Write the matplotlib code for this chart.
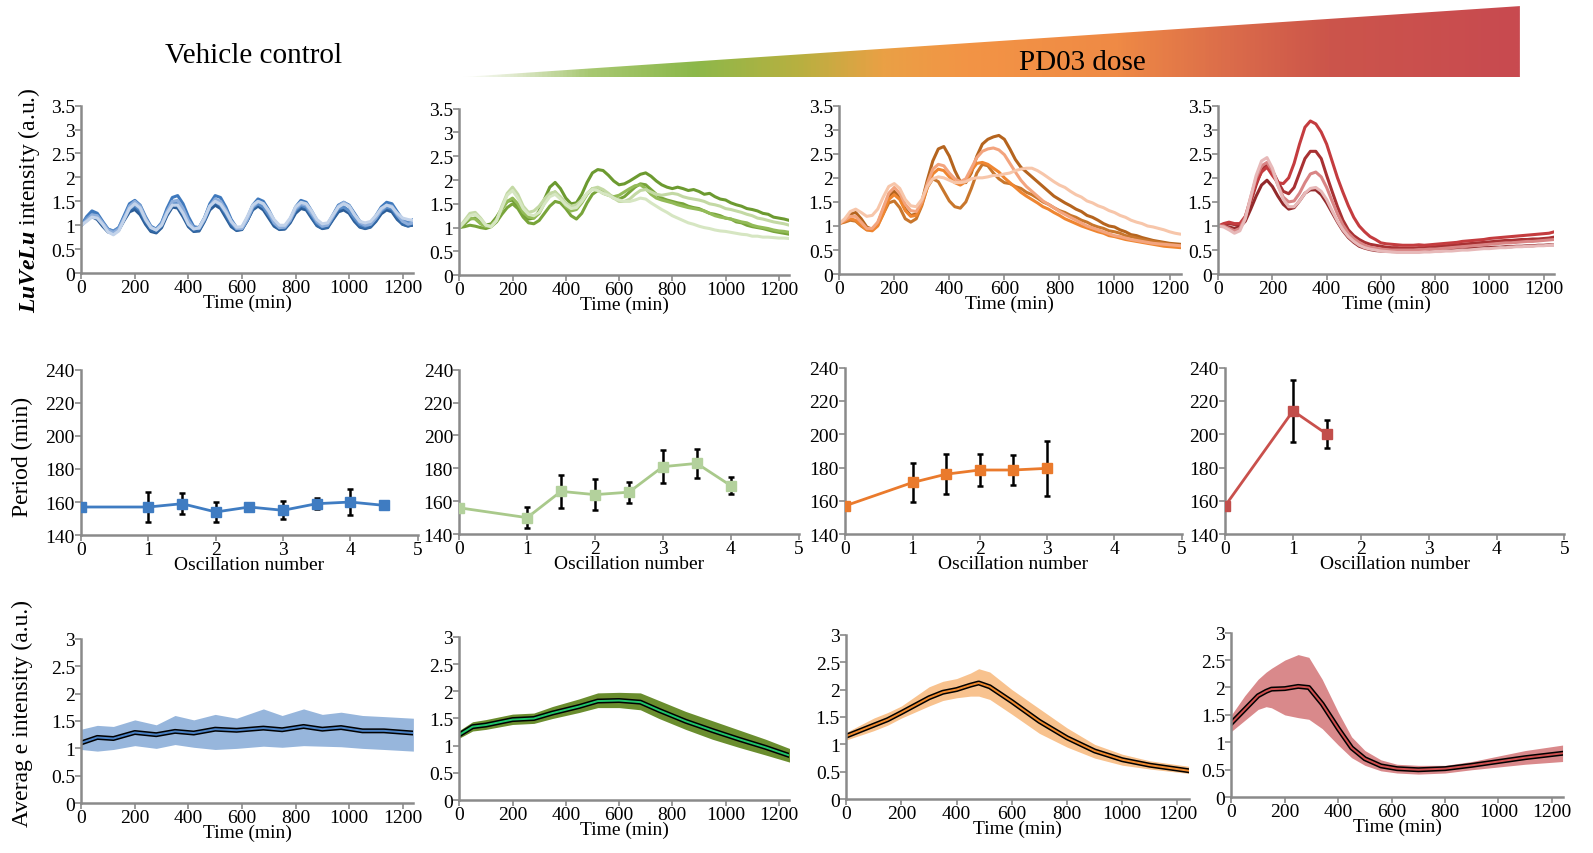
import numpy as np
import matplotlib
matplotlib.use("Agg")
import matplotlib.pyplot as plt
from matplotlib.colors import LinearSegmentedColormap
from matplotlib.patches import Polygon

plt.rcParams['font.family'] = ['Liberation Serif', 'DejaVu Serif']
plt.rcParams['mathtext.fontset'] = 'custom'
plt.rcParams['mathtext.rm'] = 'Liberation Serif'
plt.rcParams['mathtext.it'] = 'Liberation Serif:italic:bold'

# ---------------- data: single-cell traces (sampled every 20 min) ----------------
t_trace = np.arange(0, 1241, 20)

blue_traces = [
    [1.00, 1.12, 1.18, 1.12, 0.98, 0.86, 0.83, 0.90, 1.10, 1.28,
     1.33, 1.22, 1.02, 0.87, 0.84, 0.95, 1.20, 1.38, 1.36, 1.18,
     0.97, 0.87, 0.88, 1.08, 1.32, 1.42, 1.35, 1.16, 0.97, 0.89,
     0.91, 1.10, 1.32, 1.40, 1.32, 1.15, 0.98, 0.91, 0.92, 1.05,
     1.25, 1.35, 1.32, 1.15, 0.99, 0.93, 0.95, 1.12, 1.28, 1.32,
     1.25, 1.08, 0.96, 0.93, 0.96, 1.08, 1.24, 1.32, 1.28, 1.12,
     1.02, 0.99, 1.00],
    [1.00, 1.14, 1.24, 1.20, 1.04, 0.90, 0.86, 0.92, 1.12, 1.32,
     1.38, 1.28, 1.06, 0.90, 0.86, 0.98, 1.24, 1.42, 1.40, 1.22,
     1.00, 0.88, 0.90, 1.10, 1.36, 1.48, 1.40, 1.20, 1.00, 0.90,
     0.92, 1.10, 1.34, 1.45, 1.38, 1.20, 1.02, 0.92, 0.93, 1.08,
     1.30, 1.40, 1.36, 1.18, 1.00, 0.94, 0.96, 1.14, 1.32, 1.38,
     1.30, 1.12, 0.98, 0.94, 0.97, 1.10, 1.28, 1.36, 1.32, 1.15,
     1.02, 0.98, 1.02],
    [1.00, 1.18, 1.30, 1.25, 1.08, 0.92, 0.87, 0.95, 1.20, 1.45,
     1.52, 1.42, 1.18, 0.98, 0.92, 1.05, 1.35, 1.58, 1.62, 1.45,
     1.18, 0.97, 0.95, 1.15, 1.45, 1.62, 1.58, 1.38, 1.12, 0.95,
     0.95, 1.15, 1.42, 1.55, 1.50, 1.32, 1.10, 0.97, 0.97, 1.12,
     1.38, 1.52, 1.48, 1.30, 1.10, 1.00, 1.02, 1.22, 1.42, 1.48,
     1.42, 1.25, 1.08, 1.02, 1.05, 1.20, 1.38, 1.48, 1.45, 1.28,
     1.12, 1.05, 1.12],
    [1.00, 1.15, 1.22, 1.18, 1.05, 0.92, 0.88, 0.95, 1.15, 1.35,
     1.42, 1.32, 1.10, 0.95, 0.92, 1.05, 1.30, 1.48, 1.45, 1.28,
     1.05, 0.93, 0.95, 1.15, 1.40, 1.50, 1.42, 1.25, 1.05, 0.93,
     0.95, 1.15, 1.38, 1.45, 1.38, 1.22, 1.05, 0.95, 0.97, 1.12,
     1.32, 1.42, 1.38, 1.22, 1.05, 0.97, 1.02, 1.20, 1.35, 1.38,
     1.30, 1.15, 1.02, 0.98, 1.02, 1.15, 1.30, 1.38, 1.35, 1.20,
     1.08, 1.05, 1.07],
    [1.00, 1.10, 1.22, 1.20, 1.05, 0.90, 0.85, 0.92, 1.15, 1.40,
     1.50, 1.40, 1.15, 0.96, 0.90, 1.02, 1.28, 1.50, 1.52, 1.35,
     1.10, 0.94, 0.93, 1.12, 1.40, 1.55, 1.50, 1.32, 1.08, 0.93,
     0.93, 1.12, 1.38, 1.50, 1.45, 1.28, 1.05, 0.95, 0.96, 1.10,
     1.35, 1.45, 1.42, 1.25, 1.08, 0.98, 1.00, 1.18, 1.40, 1.48,
     1.40, 1.22, 1.06, 1.00, 1.02, 1.15, 1.32, 1.42, 1.40, 1.22,
     1.08, 1.02, 1.05],
    [1.00, 1.08, 1.17, 1.15, 1.02, 0.86, 0.80, 0.88, 1.12, 1.35,
     1.45, 1.36, 1.12, 0.95, 0.90, 1.00, 1.25, 1.42, 1.42, 1.25,
     1.02, 0.92, 0.95, 1.15, 1.40, 1.50, 1.44, 1.28, 1.08, 0.96,
     0.97, 1.18, 1.42, 1.50, 1.45, 1.30, 1.12, 1.00, 1.00, 1.15,
     1.38, 1.48, 1.45, 1.30, 1.12, 1.03, 1.05, 1.22, 1.38, 1.45,
     1.40, 1.22, 1.08, 1.05, 1.08, 1.20, 1.35, 1.42, 1.38, 1.25,
     1.15, 1.12, 1.10],
]
blue_colors = ['#2b5c96', '#336aa8', '#3f79bd', '#5b8dc9', '#8eaedb', '#c3d3ea']

green_traces = [
    [1.00, 1.08, 1.18, 1.20, 1.12, 1.05, 1.08, 1.22, 1.40, 1.55,
     1.58, 1.45, 1.28, 1.18, 1.20, 1.35, 1.60, 1.85, 1.95, 1.82,
     1.62, 1.50, 1.52, 1.70, 1.95, 2.15, 2.22, 2.20, 2.10, 1.98,
     1.90, 1.92, 1.98, 2.05, 2.12, 2.15, 2.08, 1.98, 1.90, 1.85,
     1.82, 1.85, 1.82, 1.78, 1.80, 1.76, 1.70, 1.72, 1.65, 1.60,
     1.58, 1.52, 1.48, 1.45, 1.40, 1.38, 1.35, 1.30, 1.28, 1.22,
     1.20, 1.18, 1.15],
    [1.00, 1.02, 1.05, 1.03, 1.00, 0.98, 1.02, 1.12, 1.28, 1.42,
     1.50, 1.40, 1.22, 1.10, 1.08, 1.15, 1.30, 1.45, 1.55, 1.52,
     1.40, 1.25, 1.18, 1.30, 1.52, 1.70, 1.78, 1.75, 1.70, 1.62,
     1.60, 1.65, 1.75, 1.85, 1.92, 1.90, 1.80, 1.70, 1.62, 1.58,
     1.55, 1.52, 1.50, 1.45, 1.42, 1.40, 1.35, 1.30, 1.28, 1.25,
     1.20, 1.18, 1.12, 1.10, 1.05, 1.02, 1.00, 0.98, 0.95, 0.92,
     0.90, 0.88, 0.86],
    [1.00, 1.10, 1.20, 1.18, 1.08, 1.02, 1.05, 1.18, 1.38, 1.55,
     1.62, 1.50, 1.32, 1.22, 1.20, 1.30, 1.52, 1.70, 1.75, 1.62,
     1.45, 1.35, 1.38, 1.52, 1.70, 1.82, 1.80, 1.72, 1.68, 1.65,
     1.68, 1.75, 1.82, 1.88, 1.90, 1.82, 1.70, 1.62, 1.58, 1.55,
     1.52, 1.48, 1.45, 1.42, 1.40, 1.38, 1.35, 1.30, 1.25, 1.22,
     1.20, 1.18, 1.15, 1.12, 1.10, 1.05, 1.02, 1.00, 0.98, 0.95,
     0.93, 0.92, 0.90],
    [1.00, 1.15, 1.30, 1.32, 1.20, 1.05, 1.02, 1.15, 1.45, 1.72,
     1.85, 1.70, 1.45, 1.32, 1.35, 1.45, 1.60, 1.72, 1.75, 1.65,
     1.52, 1.45, 1.48, 1.58, 1.72, 1.82, 1.85, 1.80, 1.72, 1.62,
     1.55, 1.55, 1.60, 1.70, 1.78, 1.80, 1.75, 1.70, 1.68, 1.70,
     1.72, 1.70, 1.65, 1.62, 1.60, 1.58, 1.55, 1.50, 1.48, 1.45,
     1.40, 1.38, 1.35, 1.32, 1.28, 1.25, 1.20, 1.18, 1.15, 1.12,
     1.10, 1.08, 1.05],
    [1.00, 1.12, 1.25, 1.28, 1.18, 1.05, 1.02, 1.15, 1.42, 1.68,
     1.78, 1.62, 1.40, 1.28, 1.25, 1.32, 1.50, 1.65, 1.70, 1.60,
     1.48, 1.40, 1.42, 1.55, 1.72, 1.80, 1.78, 1.72, 1.68, 1.62,
     1.58, 1.55, 1.55, 1.58, 1.62, 1.60, 1.52, 1.45, 1.38, 1.32,
     1.25, 1.20, 1.15, 1.10, 1.07, 1.03, 1.00, 0.98, 0.95, 0.93,
     0.92, 0.90, 0.88, 0.86, 0.85, 0.82, 0.82, 0.80, 0.80, 0.79,
     0.78, 0.78, 0.77],
]
green_colors = ['#6c9a30', '#78a43a', '#93bb58', '#c3d9a4', '#d6e6c2']

orange_traces = [
    [1.05, 1.12, 1.25, 1.28, 1.15, 0.98, 0.93, 1.05, 1.35, 1.62,
     1.72, 1.58, 1.35, 1.22, 1.25, 1.50, 1.95, 2.35, 2.60, 2.65,
     2.45, 2.15, 1.92, 1.90, 2.10, 2.45, 2.70, 2.80, 2.85, 2.88,
     2.80, 2.60, 2.38, 2.22, 2.12, 2.02, 1.92, 1.82, 1.72, 1.62,
     1.55, 1.48, 1.42, 1.35, 1.30, 1.22, 1.18, 1.12, 1.05, 1.00,
     0.98, 0.92, 0.88, 0.82, 0.80, 0.76, 0.73, 0.70, 0.68, 0.66,
     0.64, 0.63, 0.62],
    [1.05, 1.08, 1.12, 1.10, 1.00, 0.92, 0.92, 1.02, 1.25, 1.48,
     1.52, 1.38, 1.15, 1.08, 1.15, 1.42, 1.80, 1.98, 1.92, 1.72,
     1.52, 1.40, 1.37, 1.50, 1.78, 2.10, 2.28, 2.25, 2.10, 1.98,
     1.90, 1.88, 1.82, 1.78, 1.70, 1.65, 1.58, 1.50, 1.45, 1.38,
     1.32, 1.28, 1.22, 1.18, 1.12, 1.08, 1.02, 0.98, 0.95, 0.90,
     0.88, 0.85, 0.80, 0.78, 0.75, 0.72, 0.70, 0.68, 0.66, 0.64,
     0.62, 0.60, 0.59],
    [1.05, 1.10, 1.15, 1.12, 1.02, 0.92, 0.90, 1.00, 1.25, 1.55,
     1.65, 1.55, 1.32, 1.20, 1.22, 1.45, 1.80, 2.08, 2.18, 2.15,
     2.02, 1.90, 1.85, 1.92, 2.15, 2.30, 2.32, 2.28, 2.20, 2.12,
     2.00, 1.90, 1.80, 1.70, 1.62, 1.55, 1.48, 1.40, 1.35, 1.28,
     1.22, 1.15, 1.10, 1.05, 1.00, 0.96, 0.92, 0.88, 0.85, 0.80,
     0.78, 0.75, 0.72, 0.70, 0.68, 0.66, 0.64, 0.62, 0.60, 0.58,
     0.57, 0.56, 0.55],
    [1.05, 1.12, 1.20, 1.20, 1.08, 0.95, 0.95, 1.08, 1.38, 1.68,
     1.80, 1.68, 1.45, 1.32, 1.30, 1.50, 1.88, 2.18, 2.28, 2.25,
     2.10, 1.98, 1.92, 1.98, 2.20, 2.42, 2.55, 2.60, 2.62, 2.58,
     2.48, 2.30, 2.12, 1.95, 1.82, 1.72, 1.62, 1.52, 1.45, 1.38,
     1.30, 1.24, 1.18, 1.12, 1.06, 1.00, 0.96, 0.92, 0.88, 0.84,
     0.80, 0.78, 0.75, 0.72, 0.70, 0.68, 0.66, 0.64, 0.63, 0.62,
     0.61, 0.60, 0.59],
    [1.05, 1.15, 1.30, 1.35, 1.28, 1.20, 1.22, 1.35, 1.60, 1.82,
     1.88, 1.78, 1.55, 1.42, 1.40, 1.55, 1.82, 1.98, 2.02, 2.00,
     1.95, 1.90, 1.90, 1.92, 1.98, 2.00, 2.00, 2.02, 2.05, 2.05,
     2.08, 2.10, 2.15, 2.18, 2.20, 2.20, 2.15, 2.08, 2.00, 1.92,
     1.85, 1.80, 1.72, 1.65, 1.60, 1.52, 1.48, 1.42, 1.38, 1.32,
     1.28, 1.22, 1.18, 1.12, 1.08, 1.05, 1.00, 0.98, 0.95, 0.92,
     0.88, 0.85, 0.83],
]
orange_colors = ['#b5641e', '#c8762c', '#ef8530', '#f3a47e', '#f7c6aa']

red_traces = [
    [1.00, 1.02, 1.05, 1.03, 1.00, 1.15, 1.50, 1.85, 2.15, 2.28,
     2.15, 1.92, 1.72, 1.67, 1.80, 2.10, 2.40, 2.55, 2.55, 2.40,
     2.05, 1.72, 1.40, 1.12, 0.92, 0.80, 0.72, 0.66, 0.62, 0.60,
     0.58, 0.56, 0.55, 0.55, 0.54, 0.54, 0.54, 0.55, 0.55, 0.56,
     0.57, 0.58, 0.59, 0.60, 0.61, 0.62, 0.63, 0.64, 0.65, 0.66,
     0.67, 0.68, 0.69, 0.70, 0.70, 0.71, 0.72, 0.72, 0.73, 0.73,
     0.74, 0.75, 0.77],
    [1.00, 1.00, 0.98, 0.95, 0.98, 1.10, 1.35, 1.62, 1.85, 1.95,
     1.82, 1.62, 1.45, 1.35, 1.38, 1.52, 1.68, 1.75, 1.75, 1.65,
     1.48, 1.28, 1.08, 0.90, 0.76, 0.66, 0.58, 0.54, 0.51, 0.49,
     0.48, 0.48, 0.47, 0.47, 0.47, 0.47, 0.48, 0.48, 0.48, 0.49,
     0.49, 0.50, 0.50, 0.51, 0.52, 0.52, 0.53, 0.54, 0.54, 0.55,
     0.55, 0.56, 0.56, 0.57, 0.57, 0.58, 0.58, 0.59, 0.59, 0.60,
     0.60, 0.61, 0.61],
    [1.00, 1.05, 1.08, 1.05, 1.05, 1.20, 1.55, 1.90, 2.12, 2.22,
     2.05, 1.90, 1.88, 2.00, 2.30, 2.70, 3.05, 3.18, 3.12, 2.95,
     2.70, 2.35, 2.00, 1.70, 1.42, 1.18, 1.00, 0.88, 0.78, 0.72,
     0.65, 0.63, 0.62, 0.61, 0.60, 0.60, 0.60, 0.61, 0.60, 0.61,
     0.62, 0.63, 0.64, 0.65, 0.66, 0.68, 0.69, 0.70, 0.71, 0.72,
     0.74, 0.75, 0.76, 0.77, 0.78, 0.79, 0.80, 0.81, 0.82, 0.83,
     0.84, 0.85, 0.88],
    [1.00, 1.00, 0.95, 0.90, 0.95, 1.18, 1.60, 2.00, 2.25, 2.32,
     2.15, 1.85, 1.60, 1.50, 1.52, 1.68, 1.90, 2.08, 2.12, 2.02,
     1.80, 1.52, 1.25, 1.02, 0.85, 0.74, 0.66, 0.60, 0.56, 0.54,
     0.52, 0.51, 0.50, 0.50, 0.50, 0.50, 0.50, 0.51, 0.51, 0.52,
     0.52, 0.53, 0.54, 0.55, 0.56, 0.57, 0.58, 0.59, 0.60, 0.61,
     0.62, 0.63, 0.64, 0.65, 0.65, 0.66, 0.67, 0.68, 0.68, 0.69,
     0.70, 0.71, 0.72],
    [1.00, 0.98, 0.92, 0.85, 0.90, 1.15, 1.60, 2.05, 2.35, 2.42,
     2.20, 1.85, 1.55, 1.40, 1.40, 1.52, 1.68, 1.78, 1.80, 1.72,
     1.55, 1.32, 1.10, 0.92, 0.78, 0.68, 0.60, 0.55, 0.52, 0.50,
     0.48, 0.47, 0.46, 0.45, 0.45, 0.45, 0.45, 0.45, 0.46, 0.46,
     0.47, 0.47, 0.48, 0.48, 0.49, 0.50, 0.50, 0.51, 0.52, 0.53,
     0.53, 0.54, 0.55, 0.55, 0.56, 0.57, 0.57, 0.58, 0.58, 0.59,
     0.59, 0.60, 0.61],
]
red_colors = ['#a83133', '#93292b', '#c43c3f', '#d98585', '#e7b9b9']

# ---------------- data: period per oscillation ----------------
blue_osc = [0, 1, 1.5, 2, 2.5, 3, 3.5, 4, 4.5]
blue_per = [157, 157, 159, 154, 157, 155, 159, 160, 158]
blue_err = [0, 9, 6.5, 6, 0, 5.5, 3.5, 8, 2.5]

green_osc = [0, 1, 1.5, 2, 2.5, 3, 3.5, 4]
green_per = [156, 150, 166, 164, 165.5, 181, 183, 169.5]
green_err = [0, 6.5, 10, 9.5, 6.3, 10, 9, 5.3]

orange_osc = [0, 1, 1.5, 2, 2.5, 3]
orange_per = [157, 171, 176, 178.5, 178.5, 179.5]
orange_err = [0, 11.5, 12, 9.5, 9, 16.5]

red_osc = [0, 1, 1.5]
red_per = [157, 214, 200]
red_err = [0, 18.5, 8.5]

# ---------------- data: average intensity (mean with spread) ----------------
blue_t = [0, 60, 120, 200, 280, 350, 420, 500, 580, 680, 750, 830, 900, 970, 1050, 1130, 1240]
blue_mean = [1.10, 1.20, 1.18, 1.29, 1.25, 1.31, 1.28, 1.35, 1.33, 1.37, 1.34, 1.40, 1.35, 1.38, 1.32, 1.32, 1.28]
blue_hi = [1.35, 1.42, 1.40, 1.52, 1.43, 1.60, 1.52, 1.62, 1.55, 1.72, 1.60, 1.72, 1.62, 1.66, 1.60, 1.58, 1.55]
blue_lo = [0.98, 0.95, 0.98, 1.05, 1.00, 1.07, 1.02, 0.98, 1.00, 1.04, 1.02, 1.05, 1.04, 1.03, 1.00, 0.98, 0.95]

green_t = [0, 50, 100, 200, 280, 350, 450, 520, 600, 680, 750, 850, 950, 1050, 1150, 1240]
green_mean = [1.20, 1.35, 1.38, 1.48, 1.50, 1.60, 1.72, 1.82, 1.83, 1.80, 1.65, 1.45, 1.28, 1.12, 0.97, 0.82]
green_hi = [1.28, 1.44, 1.48, 1.58, 1.60, 1.72, 1.86, 1.97, 1.98, 1.97, 1.83, 1.63, 1.46, 1.29, 1.12, 0.95]
green_lo = [1.14, 1.27, 1.30, 1.39, 1.41, 1.50, 1.61, 1.70, 1.70, 1.66, 1.50, 1.30, 1.12, 0.97, 0.83, 0.70]

orange_t = [0, 100, 150, 200, 300, 350, 400, 450, 480, 520, 600, 700, 800, 900, 1000, 1100, 1240]
orange_mean = [1.15, 1.35, 1.45, 1.58, 1.85, 1.95, 2.00, 2.08, 2.12, 2.05, 1.78, 1.42, 1.12, 0.88, 0.72, 0.62, 0.52]
orange_hi = [1.22, 1.48, 1.58, 1.70, 2.05, 2.15, 2.20, 2.30, 2.38, 2.32, 2.00, 1.65, 1.30, 1.00, 0.82, 0.70, 0.60]
orange_lo = [1.08, 1.25, 1.35, 1.48, 1.70, 1.80, 1.85, 1.88, 1.88, 1.82, 1.55, 1.20, 0.95, 0.75, 0.62, 0.55, 0.47]

red_t = [0, 50, 100, 130, 150, 200, 250, 290, 340, 400, 450, 500, 560, 620, 700, 800, 900, 1000, 1100, 1240]
red_mean = [1.35, 1.60, 1.85, 1.93, 1.97, 1.98, 2.02, 2.00, 1.70, 1.25, 0.90, 0.70, 0.57, 0.52, 0.50, 0.52, 0.58, 0.65, 0.72, 0.80]
red_hi = [1.50, 1.85, 2.15, 2.28, 2.35, 2.50, 2.60, 2.55, 2.15, 1.55, 1.10, 0.85, 0.68, 0.60, 0.58, 0.58, 0.65, 0.75, 0.85, 0.95]
red_lo = [1.20, 1.40, 1.60, 1.65, 1.63, 1.50, 1.45, 1.42, 1.25, 0.95, 0.72, 0.58, 0.48, 0.44, 0.42, 0.44, 0.50, 0.55, 0.60, 0.65]

time_ticks = [0, 200, 400, 600, 800, 1000, 1200]
top_yticks = [0, 0.5, 1, 1.5, 2, 2.5, 3, 3.5]
top_ylabels = ['0', '0.5', '1', '1.5', '2', '2.5', '3', '3.5']
per_yticks = [140, 160, 180, 200, 220, 240]
osc_ticks = [0, 1, 2, 3, 4, 5]
bot_yticks = [0, 0.5, 1, 1.5, 2, 2.5, 3]
bot_ylabels = ['0', '0.5', '1', '1.5', '2', '2.5', '3']

AX_GRAY = '#8a8a8a'
FS = 14


def style(ax, xlim, ylim, xticks, yticks, ylabels=None):
    for s in ['top', 'right']:
        ax.spines[s].set_visible(False)
    for s in ['left', 'bottom']:
        ax.spines[s].set_color(AX_GRAY)
        ax.spines[s].set_linewidth(1.8)
    ax.set_xlim(*xlim)
    ax.set_ylim(*ylim)
    ax.set_xticks(xticks)
    ax.set_yticks(yticks)
    if ylabels is not None:
        ax.set_yticklabels(ylabels)
    ax.tick_params(axis='both', colors=AX_GRAY, labelcolor='black', labelsize=FS,
                   length=4, width=1.2, pad=0.5)
    ax.patch.set_alpha(0)


fig = plt.figure(figsize=(15.93, 8.54), dpi=100)

# ---------------- header: dose wedge ----------------
dose_cmap = LinearSegmentedColormap.from_list('dose', [
    (0.00, '#ffffff'), (0.05, '#dfe9cc'), (0.12, '#a8c872'), (0.22, '#8cb84a'),
    (0.32, '#b8b040'), (0.40, '#eaa045'), (0.48, '#f39445'), (0.62, '#ef8a45'),
    (0.72, '#dc6e4a'), (0.82, '#cc554b'), (1.00, '#c84a50')])
hdr = fig.add_axes([0.2883, 0.9084, 0.6658, 0.0833])
hdr.set_xlim(0, 1)
hdr.set_ylim(0, 1)
hdr.axis('off')
im = hdr.imshow(np.linspace(0, 1, 600).reshape(1, -1), cmap=dose_cmap,
                extent=(0, 1, 0, 1), aspect='auto')
wedge = Polygon([(0, 0), (1, 1), (1, 0)], closed=True, transform=hdr.transData)
im.set_clip_path(wedge)

fig.text(0.1594, 0.9346, 'Vehicle control', fontsize=21, ha='center', va='center')
fig.text(0.6792, 0.9263, 'PD03 dose', fontsize=21, ha='center', va='center')

# ---------------- row 1: traces ----------------
row1_pos = [[0.0510, 0.6790, 0.2085, 0.1962],
            [0.2883, 0.6766, 0.2073, 0.1950],
            [0.5268, 0.6778, 0.2143, 0.1974],
            [0.7647, 0.6778, 0.2111, 0.1974]]
all_traces = [(blue_traces, blue_colors), (green_traces, green_colors),
              (orange_traces, orange_colors), (red_traces, red_colors)]
for pos, (traces, cols) in zip(row1_pos, all_traces):
    ax = fig.add_axes(pos)
    for y, c in zip(traces, cols):
        ax.plot(t_trace, y, color=c, lw=2.2, solid_capstyle='round')
    style(ax, (0, 1240), (0, 3.5), time_ticks, top_yticks, top_ylabels)
    ax.set_xlabel('Time (min)', fontsize=FS, labelpad=-2)

# ---------------- row 2: period ----------------
row2_pos = [[0.0510, 0.3722, 0.2111, 0.1938],
            [0.2883, 0.3734, 0.2130, 0.1926],
            [0.5306, 0.3734, 0.2111, 0.1950],
            [0.7691, 0.3734, 0.2130, 0.1950]]
period_sets = [(blue_osc, blue_per, blue_err, '#3f7cc2', '#3f7cc2'),
               (green_osc, green_per, green_err, '#a9c98b', '#b3d19c'),
               (orange_osc, orange_per, orange_err, '#ea7a2c', '#ea7a2c'),
               (red_osc, red_per, red_err, '#c9504c', '#c24e4b')]
for pos, (x, y, e, lc, mc) in zip(row2_pos, period_sets):
    ax = fig.add_axes(pos)
    ax.plot(x, y, color=lc, lw=2.0, zorder=2)
    ax.errorbar(x, y, yerr=e, fmt='none', ecolor='black', elinewidth=1.8,
                capsize=2, capthick=1.8, zorder=3)
    ax.plot(x, y, ls='none', marker='s', ms=7, color=mc, zorder=4)
    style(ax, (0, 5), (140, 240), osc_ticks, per_yticks)
    ax.set_xlabel('Oscillation number', fontsize=FS, labelpad=-2)

# ---------------- row 3: average intensity ----------------
row3_pos = [[0.0510, 0.0583, 0.2085, 0.1926],
            [0.2883, 0.0618, 0.2073, 0.1914],
            [0.5312, 0.0630, 0.2149, 0.1926],
            [0.7730, 0.0654, 0.2079, 0.1926]]
avg_sets = [(blue_t, blue_mean, blue_hi, blue_lo, '#97b6dc', '#4a82c6'),
            (green_t, green_mean, green_hi, green_lo, '#6a8d2e', '#1fc46a'),
            (orange_t, orange_mean, orange_hi, orange_lo, '#f8c28e', '#f08a2e'),
            (red_t, red_mean, red_hi, red_lo, '#d9898b', '#cf4f4f')]
for pos, (t, m, hi, lo, band, core) in zip(row3_pos, avg_sets):
    ax = fig.add_axes(pos)
    ax.fill_between(t, lo, hi, color=band, lw=0)
    ax.plot(t, m, color='black', lw=3.6)
    ax.plot(t, m, color=core, lw=1.4)
    style(ax, (0, 1240), (0, 3), time_ticks, bot_yticks, bot_ylabels)
    ax.set_xlabel('Time (min)', fontsize=FS, labelpad=-2)

# ---------------- row y-labels ----------------
fig.text(0.0179, 0.7658, r'$\mathit{LuVeLu}$ intensity (a.u.)', rotation=90,
         fontsize=17, ha='center', va='center')
fig.text(0.0140, 0.4650, 'Period (min)', rotation=90, fontsize=17,
         ha='center', va='center')
fig.text(0.0140, 0.1640, 'Averag e intensity (a.u.)', rotation=90, fontsize=17,
         ha='center', va='center')

fig.savefig('out.png', dpi=100)
